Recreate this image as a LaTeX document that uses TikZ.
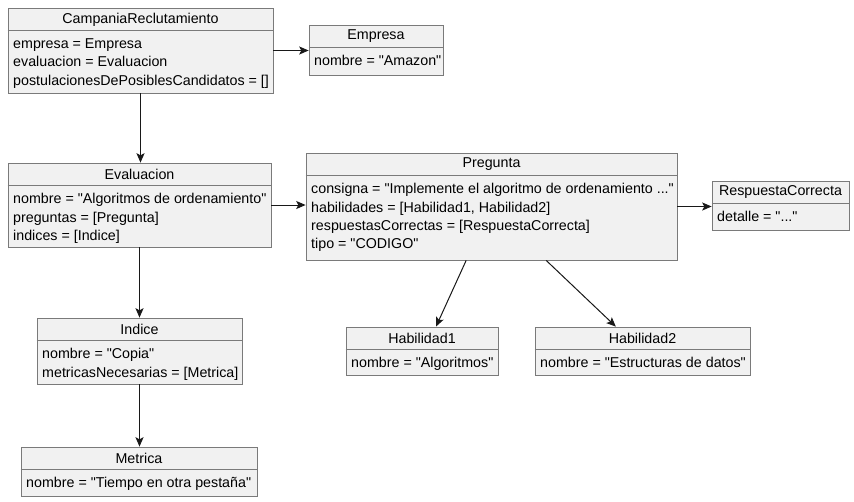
\documentclass[tikz,border=0pt]{standalone}
\usepackage{fontspec}
\setmainfont{Liberation Sans}
\usetikzlibrary{fit,arrows.meta}
\definecolor{objfill}{HTML}{F1F1F1}
\definecolor{objline}{HTML}{7A7A7A}
\definecolor{linkcol}{HTML}{181818}
\newcommand{\dq}{\textquotedbl}
\begin{document}
\begin{tikzpicture}[x=0.75pt, y=-0.75pt, >={Stealth[length=7pt,width=6pt,inset=1.5pt]},
  font=\fontsize{10.7}{13.75}\selectfont,
  obj/.style={draw=objline, fill=objfill, line width=0.6pt, inner sep=0pt},
  head/.style={inner sep=0pt},
  attrs/.style={anchor=north west, align=left, inner sep=0pt},
  link/.style={->, draw=linkcol, line width=0.75pt}]
  \useasboundingbox (0,0) rectangle (854,501);

  % 1. Object boxes, corners given in pixels
  \node[obj, fit={(8,8) (273,93)}] (campania) {};
  \node[obj, fit={(309,25) (443,75)}] (empresa) {};
  \node[obj, fit={(8,163) (271,247)}] (evaluacion) {};
  \node[obj, fit={(306,153) (677,260)}] (pregunta) {};
  \node[obj, fit={(712,181) (849,230)}] (respuesta) {};
  \node[obj, fit={(37,318) (242,384)}] (indice) {};
  \node[obj, fit={(346,327) (498,375)}] (habilidad1) {};
  \node[obj, fit={(535,327) (750,375)}] (habilidad2) {};
  \node[obj, fit={(21,447) (257,496)}] (metrica) {};

  % 2. Title and separator line of each box
  \foreach \n/\t in {campania/CampaniaReclutamiento, empresa/Empresa,
      evaluacion/Evaluacion, pregunta/Pregunta, respuesta/RespuestaCorrecta,
      indice/Indice, habilidad1/Habilidad1, habilidad2/Habilidad2, metrica/Metrica} {
    \node[head] (\n-head) at ([yshift=-8.8pt]\n.north) {\t};
    \draw[objline, line width=0.6pt] ([yshift=-17pt]\n.north west) -- ([yshift=-17pt]\n.north east);
  }

  % 3. Attribute lists
  \node[attrs] (campania-attr) at ([xshift=4pt, yshift=-23pt]campania.north west)
    {empresa = Empresa\\evaluacion = Evaluacion\\postulacionesDePosiblesCandidatos = []};
  \node[attrs] (empresa-attr) at ([xshift=4pt, yshift=-23pt]empresa.north west)
    {nombre = \dq Amazon\dq};
  \node[attrs] (evaluacion-attr) at ([xshift=4pt, yshift=-23pt]evaluacion.north west)
    {nombre = \dq Algoritmos de ordenamiento\dq\\preguntas = [Pregunta]\\indices = [Indice]};
  \node[attrs] (pregunta-attr) at ([xshift=4pt, yshift=-23pt]pregunta.north west)
    {consigna = \dq Implemente el algoritmo de ordenamiento ...\dq\\habilidades = [Habilidad1, Habilidad2]\\
     respuestasCorrectas = [RespuestaCorrecta]\\tipo = \dq CODIGO\dq};
  \node[attrs] (respuesta-attr) at ([xshift=4pt, yshift=-23pt]respuesta.north west)
    {detalle = \dq...\dq};
  \node[attrs] (indice-attr) at ([xshift=4pt, yshift=-23pt]indice.north west)
    {nombre = \dq Copia\dq\\metricasNecesarias = [Metrica]};
  \node[attrs] (habilidad1-attr) at ([xshift=4pt, yshift=-23pt]habilidad1.north west)
    {nombre = \dq Algoritmos\dq};
  \node[attrs] (habilidad2-attr) at ([xshift=4pt, yshift=-23pt]habilidad2.north west)
    {nombre = \dq Estructuras de datos\dq};
  \node[attrs] (metrica-attr) at ([xshift=4pt, yshift=-23pt]metrica.north west)
    {nombre = \dq Tiempo en otra pestaña\dq};

  % 4. Links between objects
  \draw[link] (campania.east) -- (empresa.west |- campania.east);
  \draw[link] (campania.south) -- (evaluacion.north -| campania.south);
  \draw[link] (evaluacion.east) -- (pregunta.west |- evaluacion.east);
  \draw[link] (pregunta.east) -- (respuesta.west |- pregunta.east);
  \draw[link] (evaluacion.south) -- (indice.north -| evaluacion.south);
  \draw[link] (indice.south) -- (metrica.north -| indice.south);
  \draw[link] ([xshift=-19pt]pregunta.south) -- ([xshift=10.5pt]habilidad1.north);
  \draw[link] ([xshift=41pt]pregunta.south) -- ([xshift=-20pt]habilidad2.north);
\end{tikzpicture}
\end{document}
